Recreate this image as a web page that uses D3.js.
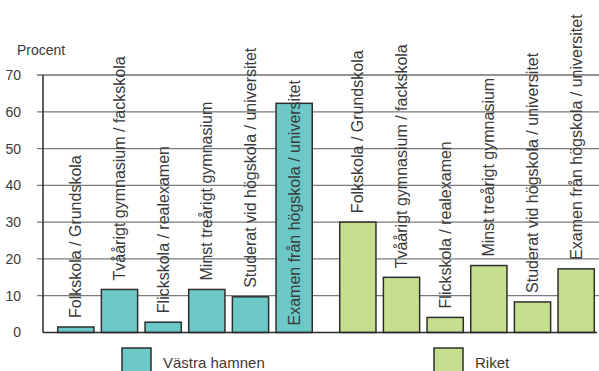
<!DOCTYPE html>
<html>
<head>
<meta charset="utf-8">
<script src="https://cdn.jsdelivr.net/npm/d3@7"></script>
<style>
  body { margin: 0; background: #fff; }
  svg text { font-family: "Liberation Sans", Arial, Helvetica, sans-serif; fill: #3a3a3a; }
</style>
</head>
<body>
<div class="chart"></div>
<script>
// education levels (same for both groups)
const categories = [
  "Folkskola / Grundskola",
  "Tvåårigt gymnasium / fackskola",
  "Flickskola / realexamen",
  "Minst treårigt gymnasium",
  "Studerat vid högskola / universitet",
  "Examen från högskola / universitet"
];
const groups = ["Västra hamnen", "Riket"];
const vastraHamnen = [1.5, 11.7, 2.8, 11.7, 9.7, 62.3];
const riket = [30, 15, 4.1, 18.2, 8.3, 17.3];
const yTicks = [0, 10, 20, 30, 40, 50, 60, 70];
const colors = ["#6cc9c8", "#c5df8e"];

const width = 599, height = 371;

const svg = d3.select(".chart").append("svg")
    .attr("width", width)
    .attr("height", height);

const yScale = d3.scaleLinear()
    .domain([0, 70])
    .range([332.5, 75]);

const xGroup = d3.scaleBand()
    .domain(groups)
    .range([54, 598])
    .paddingInner(0.071)
    .paddingOuter(0);

const xBar = d3.scaleBand()
    .domain(categories)
    .range([0, xGroup.bandwidth()])
    .paddingInner(0.17)
    .paddingOuter(0.085);

// gridlines
svg.append("g")
  .selectAll("line")
  .data(yTicks.filter(d => d > 0))
  .enter().append("line")
    .attr("x1", 37)
    .attr("x2", width)
    .attr("y1", d => yScale(d))
    .attr("y2", d => yScale(d))
    .attr("stroke", d => d == 70 ? "#2a2a2a" : "#7a7a7a")
    .attr("stroke-width", 1.2);

// y axis labels
const yaxis = svg.append("g")
    .attr("transform", "translate(21,0)")
    .call(d3.axisLeft(yScale).tickValues(yTicks).tickSize(0).tickPadding(0));
yaxis.select(".domain").remove();
yaxis.selectAll("text")
    .style("font-size", "14px")
    .attr("fill", "#3a3a3a");

svg.append("text")
    .attr("x", 17)
    .attr("y", 55)
    .style("font-size", "14px")
    .text("Procent");

const data = [];
groups.forEach((g, gi) => {
  const vals = gi == 0 ? vastraHamnen : riket;
  categories.forEach((c, i) => data.push({group: g, gi: gi, cat: c, value: vals[i]}));
});

// bars
svg.append("g")
  .selectAll("rect")
  .data(data)
  .enter().append("rect")
    .attr("x", d => xGroup(d.group) + xBar(d.cat))
    .attr("y", d => yScale(d.value))
    .attr("width", xBar.bandwidth())
    .attr("height", d => yScale(0) - yScale(d.value))
    .attr("fill", d => colors[d.gi])
    .attr("stroke", "#2e2e2e")
    .attr("stroke-width", 1.5);

// rotated labels
svg.append("g")
  .selectAll("text")
  .data(data)
  .enter().append("text")
    .style("font-size", "16px")
    .attr("text-anchor", "start")
    .attr("dy", "0.35em")
    .text(d => d.cat)
    .attr("transform", function(d) {
      const cx = xGroup(d.group) + xBar(d.cat) + xBar.bandwidth() / 2;
      let y = yScale(d.value) - 9;
      const len = this.getComputedTextLength();
      if (y - len < 0) y = yScale(0) - 7; // too tall, put it inside the bar
      return "translate(" + cx + "," + y + ") rotate(-90)";
    });

// axis lines
svg.append("line")
    .attr("x1", 43).attr("x2", 43)
    .attr("y1", yScale(70)).attr("y2", yScale(0))
    .attr("stroke", "#2a2a2a").attr("stroke-width", 1.5);
svg.append("line")
    .attr("x1", 43).attr("x2", 597)
    .attr("y1", yScale(0)).attr("y2", yScale(0))
    .attr("stroke", "#2a2a2a").attr("stroke-width", 1.5);

// legend
const legendX = [122, 434];
const legend = svg.append("g")
  .selectAll("g")
  .data(groups)
  .enter().append("g")
    .attr("transform", (d, i) => "translate(" + legendX[i] + ",348)");
legend.append("rect")
    .attr("width", 29)
    .attr("height", 30)
    .attr("fill", (d, i) => colors[i])
    .attr("stroke", "#2e2e2e")
    .attr("stroke-width", 1.5);
legend.append("text")
    .attr("x", 41)
    .attr("y", 20)
    .style("font-size", "15px")
    .text(d => d);
</script>
</body>
</html>
